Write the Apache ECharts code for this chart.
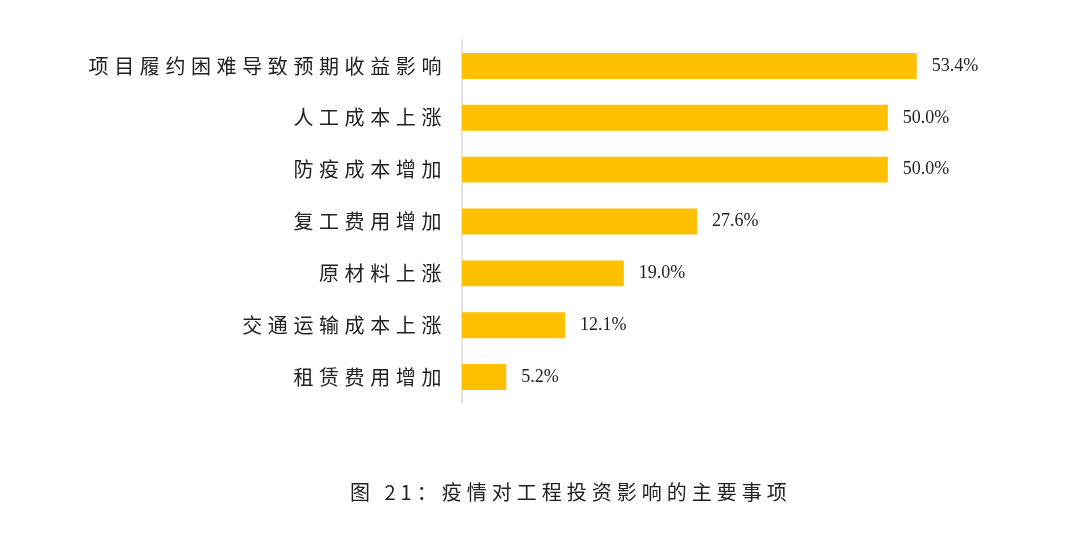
<!DOCTYPE html>
<html><head><meta charset="utf-8">
<script src="https://cdn.jsdelivr.net/npm/echarts@6/dist/echarts.min.js"></script>
<style>html,body{margin:0;padding:0;background:#fff}#c{width:1080px;height:536px}</style>
</head><body><div id="c"></div>
<script>
const categories = ['项目履约困难导致预期收益影响','人工成本上涨','防疫成本增加','复工费用增加','原材料上涨','交通运输成本上涨','租赁费用增加'];
const values = [53.4, 50.0, 50.0, 27.6, 19.0, 12.1, 5.2];
const captionText = '图 21：疫情对工程投资影响的主要事项';

// widen spacing between CJK characters, as in the reference typesetting
(function () {
  const proto = CanvasRenderingContext2D.prototype;
  const orig = proto.fillText;
  proto.fillText = function (t, x, y, w) {
    if ('letterSpacing' in this) {
      if (typeof t === 'string' && /[\u4e00-\u9fff]/.test(t)) {
        this.letterSpacing = (t === captionText) ? '5px' : '5.6px';
      } else {
        this.letterSpacing = '0px';
      }
    }
    const r = w === undefined ? orig.call(this, t, x, y) : orig.call(this, t, x, y, w);
    if ('letterSpacing' in this) this.letterSpacing = '0px';
    return r;
  };
})();

const chart = echarts.init(document.getElementById('c'));
chart.setOption({
  animation: false,
  backgroundColor: '#ffffff',
  grid: { left: 462, right: 107, top: 40, bottom: 133, containLabel: false },
  xAxis: { type: 'value', min: 0, max: 60, show: false },
  yAxis: {
    type: 'category',
    inverse: true,
    data: categories,
    axisLine: { show: true, lineStyle: { color: '#d9d9d9', width: 1.5 } },
    axisTick: { show: false },
    axisLabel: {
      margin: 15,
      color: '#222',
      fontSize: 20,
      fontFamily: '"Noto Sans CJK SC", sans-serif',
      padding: [3, 0, 0, 0]
    }
  },
  series: [{
    type: 'bar',
    data: values,
    barCategoryGap: '50%',
    itemStyle: { color: '#FFC000' },
    label: {
      show: true,
      position: 'right',
      distance: 15,
      color: '#222',
      fontSize: 18,
      fontFamily: '"Liberation Serif", "DejaVu Serif", serif',
      formatter: p => p.value.toFixed(1) + '%'
    }
  }],
  graphic: [{
    type: 'text',
    left: 350,
    top: 482,
    style: {
      text: captionText,
      fill: '#222',
      font: '20px "Noto Sans CJK SC", sans-serif'
    }
  }]
});
</script></body></html>
